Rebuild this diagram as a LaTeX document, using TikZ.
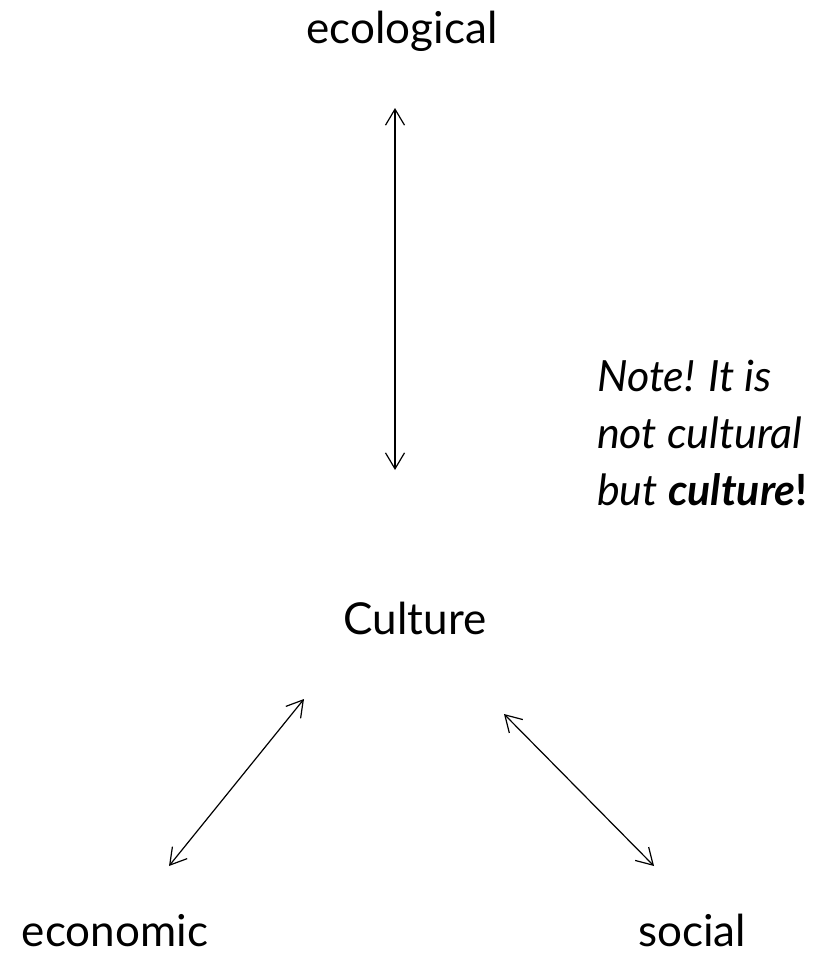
\documentclass[tikz,border=0pt]{standalone}
\usepackage{fontspec}
\setmainfont{Lato}
\usetikzlibrary{arrows.meta}

\begin{document}
\begin{tikzpicture}[x=1pt,y=-1pt,
  word/.style={inner sep=0pt, anchor=base, font=\fontsize{44}{52}\selectfont},
  link/.style={{Straight Barb[length=16pt,width=19pt]}-{Straight Barb[length=16pt,width=19pt]}, line width=1.2pt}]
\useasboundingbox (0,0) rectangle (839,953);

\node[word] (eco) at (402,43) {ecological};
\node[word] (cult) at (415,634) {Culture};
\node[word] (econ) at (115,946) {economic};
\node[word] (soc) at (692,946) {social};
% base of the note is the baseline of its last line
\node[word, anchor=base west, align=left, font=\fontsize{43}{57}\selectfont\itshape]
  (note) at (597,505) {Note! It is\\not cultural\\but \textbf{culture}\textbf{\upshape !}};

% arrow ends
\coordinate (ecoTip) at (395,108);
\coordinate (cultTop) at (395,470);
\coordinate (cultLeft) at (304,699);
\coordinate (econTip) at (169,866);
\coordinate (cultRight) at (504,714);
\coordinate (socTip) at (654,866);

\draw [link] (ecoTip) -- (cultTop);
\draw [link] (cultLeft) -- (econTip);
\draw [link] (cultRight) -- (socTip);

\end{tikzpicture}
\end{document}
